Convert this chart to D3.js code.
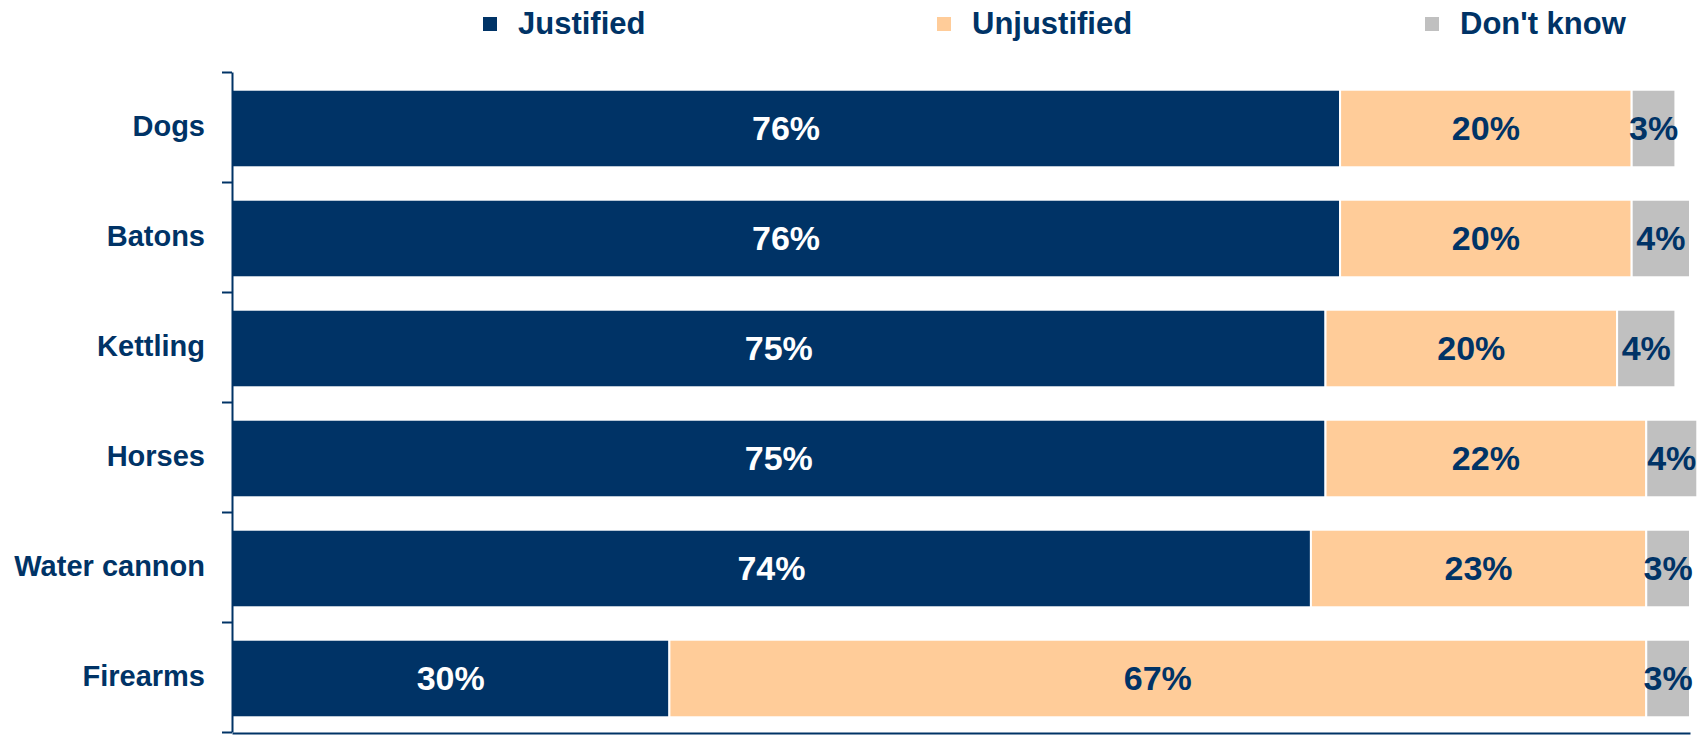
<!DOCTYPE html>
<html>
<head>
<meta charset="utf-8">
<script src="https://cdn.jsdelivr.net/npm/d3@7"></script>
<style>
  html, body { margin: 0; padding: 0; background: #ffffff; }
  svg { display: block; font-family: "Liberation Sans", Arial, sans-serif; font-weight: bold; }
</style>
</head>
<body>
<svg id="chart" width="1705" height="736"></svg>
<script>
// ---- Data ----
const categories = ["Dogs", "Batons", "Kettling", "Horses", "Water cannon", "Firearms"];
const justified   = [76, 76, 75, 75, 74, 30];
const unjustified = [20, 20, 20, 22, 23, 67];
const dontKnow    = [3, 4, 4, 3.5, 3, 3];
const seriesNames = ["Justified", "Unjustified", "Don't know"];

// ---- Styles ----
const navy = "#003366";
const colors = ["#003366", "#FFCC99", "#C0C0C0"];
const labelColors = ["#ffffff", navy, navy];

const svg = d3.select("#chart");
const plotLeft = 232, plotRight = 1690, plotTop = 72, plotBottom = 732;
const barShift = 1.5;

const x = d3.scaleLinear().domain([0, 100]).range([plotLeft, plotRight]);
const y = d3.scaleBand().domain(categories).range([plotTop, plotBottom])
  .paddingInner(0.295).paddingOuter(0.1475);

const seriesValues = [justified, unjustified, dontKnow];
const rows = categories.map((c, i) => {
  let acc = 0;
  return seriesValues.map((vals, s) => {
    const seg = { cat: c, s, v: vals[i], x0: acc, x1: acc + vals[i] };
    acc += vals[i];
    return seg;
  });
}).flat();

// Bars
svg.append("g").selectAll("rect").data(rows).join("rect")
  .attr("x", d => x(d.x0))
  .attr("y", d => y(d.cat) + barShift)
  .attr("width", d => x(d.x1) - x(d.x0))
  .attr("height", y.bandwidth())
  .attr("fill", d => colors[d.s])
  .attr("stroke", "#ffffff")
  .attr("stroke-width", 2);

// Value labels
svg.append("g").selectAll("text").data(rows).join("text")
  .attr("x", d => (x(d.x0) + x(d.x1)) / 2)
  .attr("y", d => y(d.cat) + barShift + y.bandwidth() / 2)
  .attr("dy", "0.35em")
  .attr("text-anchor", "middle")
  .attr("font-size", 34)
  .attr("fill", d => labelColors[d.s])
  .text(d => Math.round(d.v) + "%");

// Left axis line with ticks at band boundaries
const tickScale = d3.scaleLinear().domain([0, categories.length]).range([plotTop, plotBottom]);
const gAxis = svg.append("g").attr("transform", `translate(${plotLeft},0)`)
  .call(d3.axisLeft(tickScale).tickValues(d3.range(categories.length + 1))
    .tickSize(10).tickSizeOuter(0).tickFormat(""));
gAxis.selectAll("path, line").attr("stroke", navy).attr("stroke-width", 2);

// Category labels
const gCat = svg.append("g").attr("transform", `translate(${plotLeft},0)`)
  .call(d3.axisLeft(y).tickSize(0).tickPadding(27));
gCat.select(".domain").remove();
gCat.selectAll("text")
  .attr("font-size", 29)
  .attr("font-weight", "bold")
  .attr("font-family", "Liberation Sans, Arial, sans-serif")
  .attr("fill", navy);

// Bottom axis line
const gX = svg.append("g").attr("transform", `translate(0,${plotBottom + 1})`)
  .call(d3.axisBottom(x).tickValues([]).tickSizeOuter(0));
gX.select(".domain").attr("stroke", navy).attr("stroke-width", 2);

// Legend
const legendMarkerX = [483, 937, 1425];
const legend = svg.append("g").selectAll("g").data(seriesNames).join("g");
legend.append("rect")
  .attr("x", (d, i) => legendMarkerX[i])
  .attr("y", 17)
  .attr("width", 14)
  .attr("height", 14)
  .attr("fill", (d, i) => colors[i]);
legend.append("text")
  .attr("x", (d, i) => legendMarkerX[i] + 35)
  .attr("y", 34)
  .attr("font-size", 31)
  .attr("fill", navy)
  .text(d => d);
</script>
</body>
</html>
